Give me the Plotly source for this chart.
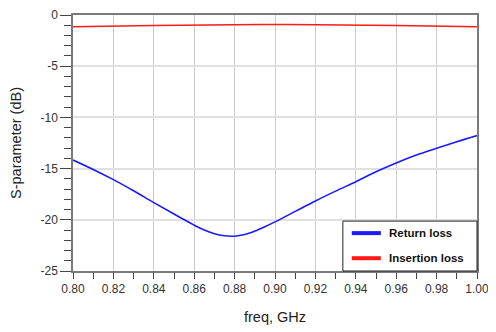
import plotly.graph_objects as go

freq = [0.80, 0.81, 0.82, 0.83, 0.84, 0.85, 0.86, 0.865, 0.87, 0.875, 0.88, 0.885,
        0.89, 0.895, 0.90, 0.91, 0.92, 0.93, 0.94, 0.95, 0.96, 0.97, 0.98, 0.99, 1.00]
return_loss = [-14.16, -15.08, -16.08, -17.17, -18.32, -19.44, -20.52, -21.0, -21.36,
               -21.56, -21.6, -21.44, -21.1, -20.67, -20.2, -19.18, -18.16, -17.2,
               -16.28, -15.31, -14.45, -13.68, -13.02, -12.38, -11.78]
ins_freq = [0.80, 0.84, 0.88, 0.90, 0.92, 0.96, 1.00]
insertion_loss = [-1.14, -1.02, -0.95, -0.93, -0.95, -1.03, -1.14]

series_names = ["Return loss", "Insertion loss"]
series_colors = ["#1a1aff", "#ff1a1a"]

x_ticks = [0.80, 0.82, 0.84, 0.86, 0.88, 0.90, 0.92, 0.94, 0.96, 0.98, 1.00]
x_labels = ["0.80", "0.82", "0.84", "0.86", "0.88", "0.90", "0.92", "0.94", "0.96", "0.98", "1.00"]
y_ticks = [0, -5, -10, -15, -20, -25]
y_labels = ["0", "-5", "-10", "-15", "-20", "-25"]

font = "Liberation Sans, Arial, sans-serif"

fig = go.Figure()
fig.add_trace(go.Scatter(x=freq, y=return_loss, mode="lines", name=series_names[0],
                         line=dict(color=series_colors[0], width=1.6, shape="spline", smoothing=1.0)))
fig.add_trace(go.Scatter(x=ins_freq, y=insertion_loss, mode="lines", name=series_names[1],
                         line=dict(color=series_colors[1], width=1.5, shape="spline", smoothing=1.0)))

# legend box drawn in paper coordinates (bottom-right, inside plot)
shapes = [dict(type="rect", xref="paper", yref="paper", x0=0.668, x1=1.0, y0=0.0, y1=0.195,
               line=dict(color="#222222", width=1), fillcolor="white", layer="above")]
annotations = []
legend_y = [0.148, 0.05]
for name, color, ly in zip(series_names, series_colors, legend_y):
    shapes.append(dict(type="line", xref="paper", yref="paper", x0=0.69, x1=0.762, y0=ly, y1=ly,
                       line=dict(color=color, width=4), layer="above"))
    annotations.append(dict(xref="paper", yref="paper", x=0.777, y=ly, text="<b>%s</b>" % name,
                            showarrow=False, xanchor="left", yanchor="middle",
                            font=dict(size=11.5, family=font, color="#111111")))

# page body has an 8px margin, so the figure is sized/positioned to compensate
fig.update_layout(
    width=488, height=324,
    margin=dict(l=65, r=19, t=7, b=61),
    paper_bgcolor="white", plot_bgcolor="white",
    font=dict(family=font, size=12, color="#333333"),
    showlegend=False,
    shapes=shapes, annotations=annotations,
    xaxis=dict(range=[0.80, 1.00], tickvals=x_ticks, ticktext=x_labels, automargin=False,
               showgrid=True, gridcolor="#cccccc", gridwidth=1,
               showline=True, linecolor="#7a7a7a", linewidth=1.5, mirror=True,
               ticks="outside", ticklen=6, tickcolor="#444444",
               tickfont=dict(size=12, family=font, color="#333333"),
               minor=dict(dtick=0.01, tick0=0.8, ticks="outside", ticklen=6, tickcolor="#444444", showgrid=False),
               title=dict(text="freq, GHz", font=dict(size=14.5, family=font, color="#222222"), standoff=17),
               zeroline=False),
    yaxis=dict(range=[-25, 0], tickvals=y_ticks, ticktext=y_labels, automargin=False,
               showgrid=True, gridcolor="#e0e0e0", gridwidth=1.5,
               showline=True, linecolor="#7a7a7a", linewidth=1.5, mirror=True,
               ticks="outside", ticklen=11, tickcolor="#444444",
               tickfont=dict(size=12, family=font, color="#333333"),
               minor=dict(dtick=1, tick0=0, ticks="outside", ticklen=7, tickcolor="#444444", showgrid=False),
               title=dict(text="S-parameter (dB)", font=dict(size=14.5, family=font, color="#222222"), standoff=16),
               zeroline=False),
)

fig.write_html("out.html")
